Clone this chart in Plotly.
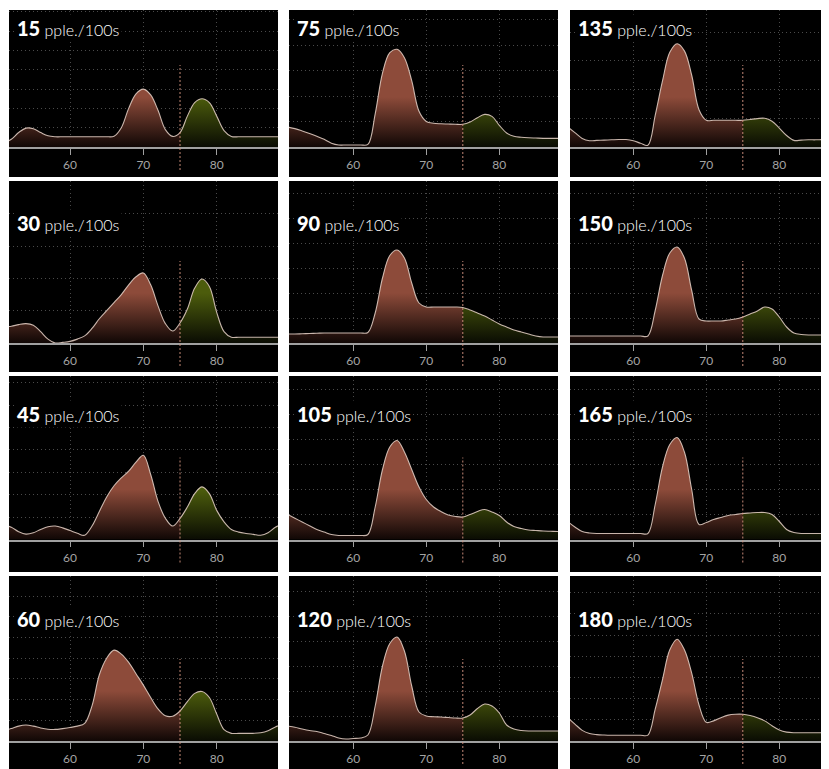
import plotly.graph_objects as go

OFF = 8                      # page body margin of the browser
W, H = 829 - OFF, 769 - OFF

# ---------------- data ----------------
X = list(range(51, 90))          # x positions of the density samples
LEVELS = [15, 30, 45, 60, 75, 90, 105, 120, 135, 150, 165, 180]
UNIT_LABEL = "pple./100s"
TICKS = [60, 70, 80]
SPLIT = 75

d15 = [0.2, 0.4, 0.75, 0.98, 0.95, 0.75, 0.58, 0.53, 0.53, 0.53, 0.53, 0.53, 0.53, 0.53, 0.53,
       0.56, 1.0, 2.0, 2.75, 3.0, 2.7, 1.9, 0.9, 0.55, 0.75, 1.6, 2.3, 2.5, 2.3, 1.6, 0.85, 0.55,
       0.53, 0.53, 0.53, 0.53, 0.53, 0.53, 0.53]
d30 = [0.5, 0.52, 0.57, 0.6, 0.55, 0.35, 0.12, 0.0, 0.02, 0.05, 0.12, 0.22, 0.45, 0.75, 1.0,
       1.25, 1.5, 1.8, 2.05, 2.17, 1.8, 1.15, 0.6, 0.37, 0.62, 1.05, 1.7, 1.98, 1.75, 0.95, 0.35, 0.18,
       0.18, 0.18, 0.18, 0.18, 0.18, 0.18, 0.18]
d45 = [0.65, 0.55, 0.35, 0.24, 0.3, 0.45, 0.57, 0.6, 0.52, 0.4, 0.28, 0.19, 0.6, 1.25, 1.9,
       2.4, 2.75, 3.05, 3.45, 3.76, 2.9, 1.7, 0.95, 0.6, 0.94, 1.45, 2.05, 2.35, 2.05, 1.3, 0.79, 0.45,
       0.33, 0.27, 0.23, 0.19, 0.3, 0.55, 0.7]
d60 = [0.5, 0.6, 0.72, 0.77, 0.72, 0.63, 0.57, 0.56, 0.6, 0.65, 0.72, 0.85, 1.7, 3.2, 4.0,
       4.39, 4.2, 3.8, 3.25, 2.7, 2.1, 1.55, 1.22, 1.2, 1.45, 1.9, 2.3, 2.39, 2.1, 1.3, 0.55, 0.37,
       0.37, 0.37, 0.37, 0.4, 0.5, 0.68, 0.8]
d75 = [0.78, 0.72, 0.63, 0.53, 0.42, 0.3, 0.15, 0.08, 0.08, 0.08, 0.08, 0.1, 1.3, 2.9, 3.7,
       3.83, 3.5, 2.6, 1.4, 1.0, 0.93, 0.91, 0.9, 0.89, 0.89, 0.98, 1.15, 1.28, 1.2, 0.85, 0.55, 0.42,
       0.38, 0.36, 0.35, 0.34, 0.34, 0.34, 0.34]
d90 = [0.36, 0.36, 0.37, 0.38, 0.39, 0.4, 0.4, 0.4, 0.4, 0.4, 0.4, 0.42, 1.2, 2.6, 3.5,
       3.72, 3.4, 2.4, 1.6, 1.44, 1.44, 1.44, 1.44, 1.44, 1.42, 1.32, 1.2, 1.08, 0.92, 0.76, 0.64, 0.52,
       0.44, 0.36, 0.28, 0.24, 0.24, 0.24, 0.24]
d105 = [1.0, 0.85, 0.7, 0.55, 0.4, 0.3, 0.2, 0.16, 0.16, 0.16, 0.16, 0.2, 1.3, 2.8, 3.7,
        3.96, 3.5, 2.8, 2.1, 1.6, 1.3, 1.12, 0.98, 0.92, 0.9, 1.0, 1.12, 1.2, 1.1, 0.96, 0.7, 0.52,
        0.44, 0.38, 0.36, 0.34, 0.33, 0.32, 0.32]
d120 = [0.6, 0.55, 0.48, 0.42, 0.38, 0.3, 0.22, 0.12, 0.08, 0.1, 0.12, 0.24, 1.4, 3.0, 3.9,
        4.16, 3.6, 2.2, 1.16, 1.0, 0.97, 0.96, 0.94, 0.92, 0.92, 1.04, 1.3, 1.48, 1.4, 1.12, 0.64, 0.48,
        0.42, 0.4, 0.4, 0.4, 0.4, 0.4, 0.4]
d135 = [0.7, 0.5, 0.3, 0.22, 0.23, 0.24, 0.25, 0.26, 0.26, 0.22, 0.13, 0.06, 1.1, 2.3, 3.3,
        3.6, 3.35, 2.5, 1.3, 0.93, 0.93, 0.93, 0.93, 0.93, 0.93, 0.96, 0.99, 1.0, 0.9, 0.66, 0.4, 0.23,
        0.24, 0.25, 0.25, 0.26, 0.26, 0.26, 0.26]
d150 = [0.28, 0.28, 0.28, 0.28, 0.28, 0.28, 0.28, 0.28, 0.28, 0.28, 0.28, 0.28, 1.3, 2.7, 3.6,
        3.84, 3.4, 2.1, 0.96, 0.88, 0.88, 0.88, 0.92, 0.96, 1.04, 1.16, 1.28, 1.44, 1.36, 1.04, 0.64, 0.4,
        0.34, 0.32, 0.32, 0.32, 0.32, 0.32, 0.32]
d165 = [0.72, 0.5, 0.32, 0.26, 0.24, 0.24, 0.24, 0.24, 0.24, 0.24, 0.24, 0.24, 1.4, 2.9, 3.8,
        4.08, 3.5, 2.0, 0.6, 0.68, 0.8, 0.88, 0.96, 1.0, 1.04, 1.06, 1.08, 1.08, 1.0, 0.72, 0.4, 0.28,
        0.24, 0.24, 0.24, 0.24, 0.24, 0.24, 0.24]
d180 = [1.1, 0.8, 0.5, 0.35, 0.3, 0.28, 0.27, 0.27, 0.27, 0.27, 0.27, 0.28, 1.5, 2.9, 4.3,
        4.8, 4.3, 3.2, 1.7, 0.88, 0.95, 1.1, 1.22, 1.26, 1.26, 1.2, 1.1, 0.95, 0.72, 0.52, 0.42, 0.39,
        0.39, 0.39, 0.39, 0.39, 0.39, 0.39, 0.39]

SERIES = [d15, d30, d45, d60, d75, d90, d105, d120, d135, d150, d165, d180]

# ---------------- layout geometry (screen pixels) ----------------
COLS = [(9, 278, 70.0, 216.7), (289, 558, 353.3, 499.3), (570, 829, 633.3, 779.3)]
ROWS = [(10, 147, 177, 20), (181, 343, 372, 215), (376, 539.5, 572, 406), (576, 741, 769, 611)]
GRID_PX = [19.3, 32.3, 22.4, 20.7, 25.5, 25, 25, 25, 28.7, 25, 25, 21.2]

RED_SCALE = [[0, "rgb(16,7,5)"], [1, "rgb(141,75,58)"]]
GREEN_SCALE = [[0, "rgb(10,12,3)"], [1, "rgb(76,92,12)"]]
LINE_COLOR = "rgba(225,205,195,0.88)"
GRID_COLOR = "#4a4a4a"
AXIS_COLOR = "#a0a0a0"


def px_x(p):
    return (p - OFF) / W


def px_y(p):
    return 1 - (p - OFF) / H


fig = go.Figure()
shapes = []
annotations = []
layout_axes = {}

for i, (lvl, ys) in enumerate(zip(LEVELS, SERIES)):
    col, row = i // 4, i % 4
    left, right, p60, p80 = COLS[col]
    top, axis_y, bottom, title_y = ROWS[row]
    g = GRID_PX[i]
    n = i + 1
    xa = "x" if n == 1 else f"x{n}"
    ya = "y" if n == 1 else f"y{n}"
    xname = "xaxis" if n == 1 else f"xaxis{n}"
    yname = "yaxis" if n == 1 else f"yaxis{n}"

    s = (p80 - p60) / 20.0
    xlo = 60 - (p60 - left) / s
    xhi = 80 + (right - p80) / s
    ytop = (axis_y - top) / g
    stop = 50.0 / g

    shapes.append(dict(type="rect", xref="paper", yref="paper",
                       x0=px_x(left), x1=min(px_x(right), 1), y0=max(px_y(bottom), 0), y1=px_y(top),
                       fillcolor="black", line=dict(width=0), layer="below"))

    xr = [x for x in X if x <= SPLIT]
    yr = [y for x, y in zip(X, ys) if x <= SPLIT]
    xg = [x for x in X if x >= SPLIT]
    yg = [y for x, y in zip(X, ys) if x >= SPLIT]

    fig.add_trace(go.Scatter(x=xr, y=yr, xaxis=xa, yaxis=ya, mode="none", fill="tozeroy",
                             line=dict(shape="spline"),
                             fillgradient=dict(type="vertical", colorscale=RED_SCALE, start=0, stop=stop),
                             hoverinfo="skip", showlegend=False))
    fig.add_trace(go.Scatter(x=xg, y=yg, xaxis=xa, yaxis=ya, mode="none", fill="tozeroy",
                             line=dict(shape="spline"),
                             fillgradient=dict(type="vertical", colorscale=GREEN_SCALE, start=0, stop=stop),
                             hoverinfo="skip", showlegend=False))
    fig.add_trace(go.Scatter(x=X, y=ys, xaxis=xa, yaxis=ya, mode="lines",
                             line=dict(shape="spline", color=LINE_COLOR, width=1.1),
                             hoverinfo="skip", showlegend=False))

    layout_axes[xname] = dict(domain=[px_x(left), min(px_x(right), 1)], range=[xlo, xhi], anchor=ya,
                              tickvals=TICKS, showgrid=True, gridcolor=GRID_COLOR, griddash="1px,3px",
                              gridwidth=1, showline=True, linecolor=AXIS_COLOR, linewidth=1.5,
                              ticks="outside", ticklen=6, tickcolor=AXIS_COLOR, tickwidth=1,
                              tickfont=dict(color="#a4a4a4", size=12, family="Lato"),
                              zeroline=False, fixedrange=True)
    layout_axes[yname] = dict(domain=[px_y(axis_y), px_y(top)], range=[0, ytop], anchor=xa,
                              dtick=1, tick0=0, showgrid=True, gridcolor=GRID_COLOR, griddash="1px,3px",
                              gridwidth=1, showticklabels=False, zeroline=False, fixedrange=True)

    shapes.append(dict(type="line", xref=xa, yref="paper", x0=SPLIT, x1=SPLIT,
                       y0=max(px_y(axis_y + 23), 0), y1=px_y(axis_y - 82),
                       line=dict(color="rgba(215,150,130,0.9)", width=1, dash="2px,2px")))

    annotations.append(dict(xref="paper", yref="paper", x=px_x(left + 6), y=px_y(title_y - 6),
                            xanchor="left", yanchor="top", showarrow=False,
                            text=(f"<span style='font-size:20px;font-weight:900'>{lvl}</span>"
                                  f" {UNIT_LABEL}"),
                            bgcolor="black",
                            font=dict(family="Lato", size=16, color="white", weight=300)))

fig.update_layout(width=W, height=H, margin=dict(l=0, r=0, t=0, b=0),
                  paper_bgcolor="white", plot_bgcolor="rgba(0,0,0,0)",
                  shapes=shapes, annotations=annotations, **layout_axes)

fig.write_html("out.html")
